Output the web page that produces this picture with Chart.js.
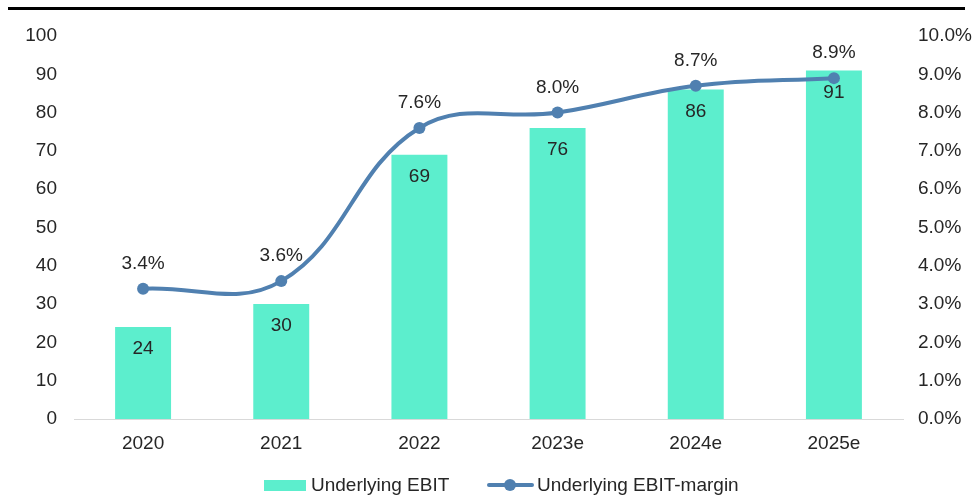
<!DOCTYPE html>
<html>
<head>
<meta charset="utf-8">
<script src="https://cdn.jsdelivr.net/npm/chart.js@4/dist/chart.umd.min.js"></script>
<style>
  html, body { margin: 0; padding: 0; background: #fff; }
  #wrap { position: relative; width: 975px; height: 497px; }
  #topline { position: absolute; left: 8px; top: 7px; width: 957px; height: 3px; background: #000; }
</style>
</head>
<body>
<div id="wrap">
  <div id="topline"></div>
  <canvas id="myChart" width="975" height="497"></canvas>
</div>
<script>
// Data
const years = ["2020", "2021", "2022", "2023e", "2024e", "2025e"];
const ebit = [24, 30, 69, 76, 86, 91];
const margin = [3.4, 3.6, 7.6, 8.0, 8.7, 8.9];

const barColor = "#5CEECD";
const lineColor = "#5080B0";
const textColor = "#262626";
const font = "Liberation Sans, Arial, sans-serif";
const fs = 19;

// value labels + custom legend
const labelsPlugin = {
  id: "labels",
  afterDatasetsDraw(chart) {
    const ctx = chart.ctx;
    ctx.save();
    ctx.font = fs + "px " + font;
    ctx.fillStyle = textColor;
    ctx.textAlign = "center";
    ctx.textBaseline = "middle";

    chart.getDatasetMeta(0).data.forEach((bar, i) => {
      ctx.fillText(ebit[i], bar.x, bar.y + 22);
    });
    chart.getDatasetMeta(1).data.forEach((pt, i) => {
      ctx.fillText(margin[i].toFixed(1) + "%", pt.x, pt.y - 25);
    });

    // legend
    const ly = 485;
    ctx.fillStyle = barColor;
    ctx.fillRect(264, ly - 5, 42, 11);
    ctx.fillStyle = textColor;
    ctx.textAlign = "left";
    ctx.fillText("Underlying EBIT", 311, ly + 1);

    ctx.strokeStyle = lineColor;
    ctx.lineWidth = 4;
    ctx.lineCap = "round";
    ctx.beginPath();
    ctx.moveTo(489, ly);
    ctx.lineTo(532, ly);
    ctx.stroke();
    ctx.fillStyle = lineColor;
    ctx.beginPath();
    ctx.arc(510, ly, 6, 0, Math.PI * 2);
    ctx.fill();
    ctx.fillStyle = textColor;
    ctx.fillText("Underlying EBIT-margin", 537, ly + 1);
    ctx.restore();
  }
};

const ctx = document.getElementById("myChart").getContext("2d");
new Chart(ctx, {
  data: {
    labels: years,
    datasets: [
      {
        type: "bar",
        label: "Underlying EBIT",
        data: ebit,
        backgroundColor: barColor,
        yAxisID: "y",
        barPercentage: 0.405,
        categoryPercentage: 1,
        order: 2
      },
      {
        type: "line",
        label: "Underlying EBIT-margin",
        data: margin,
        borderColor: lineColor,
        backgroundColor: lineColor,
        borderWidth: 4,
        pointRadius: 6,
        pointBackgroundColor: lineColor,
        pointBorderWidth: 0,
        tension: 0.4,
        yAxisID: "y1",
        order: 1
      }
    ]
  },
  options: {
    responsive: false,
    animation: false,
    layout: { padding: { top: 36, left: 0, right: 0, bottom: 0 } },
    plugins: {
      legend: { display: false },
      tooltip: { enabled: false }
    },
    scales: {
      x: {
        grid: { display: false, drawTicks: false },
        border: { display: true, color: "#d9d9d9", width: 1 },
        ticks: { color: textColor, font: { size: fs, family: font }, padding: 13 },
        afterFit(s) { s.height = 78; }
      },
      y: {
        position: "left",
        min: 0,
        max: 100,
        grid: { display: false, drawTicks: false },
        border: { display: false },
        ticks: { stepSize: 10, color: textColor, font: { size: fs, family: font }, padding: 17 },
        afterFit(s) { s.width = 74; }
      },
      y1: {
        position: "right",
        min: 0,
        max: 10,
        grid: { display: false, drawTicks: false },
        border: { display: false },
        ticks: {
          stepSize: 1,
          color: textColor,
          font: { size: fs, family: font },
          padding: 15,
          callback: v => v.toFixed(1) + "%"
        },
        afterFit(s) { s.width = 72; }
      }
    }
  },
  plugins: [labelsPlugin]
});
</script>
</body>
</html>
